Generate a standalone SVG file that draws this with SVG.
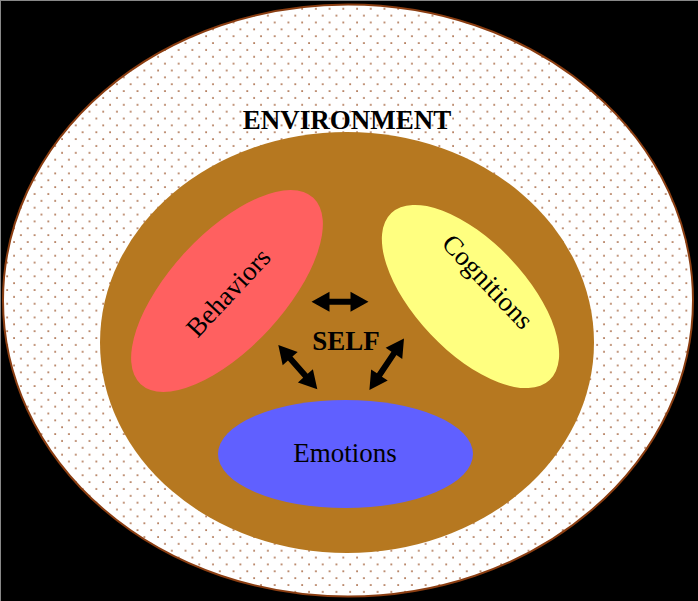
<svg xmlns="http://www.w3.org/2000/svg" width="698" height="601" viewBox="0 0 698 601">
  <defs>
    <pattern id="dots" patternUnits="userSpaceOnUse" x="-0.72" y="-5.98" width="13.72" height="13.72">
      <rect x="0" y="0" width="13.72" height="13.72" fill="#ffffff"/>
      <rect x="0.3" y="0.3" width="1.5" height="1.5" fill="#94461a"/>
      <rect x="7.16" y="7.16" width="1.5" height="1.5" fill="#94461a"/>
    </pattern>
  </defs>
  <style>
    .lbl { font-family: "Liberation Serif", "Times New Roman", serif; font-size: 27px; fill: #000; text-anchor: middle; }
    .bold { font-weight: bold; }
    .arrow { fill: #000; }
  </style>
  <rect x="0" y="0" width="698" height="601" fill="#000"/>
  <line x1="0" y1="0.5" x2="698" y2="0.5" stroke="#888" stroke-width="1"/>
  <line x1="0.5" y1="0" x2="0.5" y2="601" stroke="#888" stroke-width="1"/>

  <g id="environment">
    <ellipse cx="348" cy="300.5" rx="345" ry="296" fill="url(#dots)" stroke="#8b3e12" stroke-width="2"/>
    <text class="lbl bold" x="347" y="129.3">ENVIRONMENT</text>
  </g>

  <g id="self">
    <ellipse cx="347" cy="342.5" rx="247" ry="210.5" fill="#b67820"/>
    <text class="lbl bold" x="346" y="350">SELF</text>
  </g>

  <g id="behaviors">
    <ellipse cx="227" cy="291" rx="127" ry="57" transform="rotate(-47.2 227 291)" fill="#ff6060"/>
    <text class="lbl" transform="translate(228.3 292.5) rotate(-47)" x="0" y="9">Behaviors</text>
  </g>

  <g id="cognitions">
    <ellipse cx="470.5" cy="296.5" rx="115" ry="55" transform="rotate(46.5 470.5 296.5)" fill="#ffff80"/>
    <text class="lbl" transform="translate(487.7 281.7) rotate(46.6)" x="0" y="9">Cognitions</text>
  </g>

  <g id="emotions">
    <ellipse cx="345.5" cy="454" rx="127.5" ry="54" fill="#6060ff"/>
    <text class="lbl" x="345" y="462.3">Emotions</text>
  </g>

  <g id="connectors">
    <path class="arrow" transform="translate(340 301.7)" d="M-28.5,0 L-10.5,-10 L-10.5,-3 L10.5,-3 L10.5,-10 L28.5,0 L10.5,10 L10.5,3 L-10.5,3 L-10.5,10 Z"/>
    <path class="arrow" transform="translate(297.8 367.2) rotate(48.6)" d="M-29.5,0 L-11.5,-10 L-11.5,-3 L11.5,-3 L11.5,-10 L29.5,0 L11.5,10 L11.5,3 L-11.5,3 L-11.5,10 Z"/>
    <path class="arrow" transform="translate(386.7 364.2) rotate(-56.1)" d="M-31,0 L-13,-10 L-13,-3 L13,-3 L13,-10 L31,0 L13,10 L13,3 L-13,3 L-13,10 Z"/>
  </g>
</svg>
